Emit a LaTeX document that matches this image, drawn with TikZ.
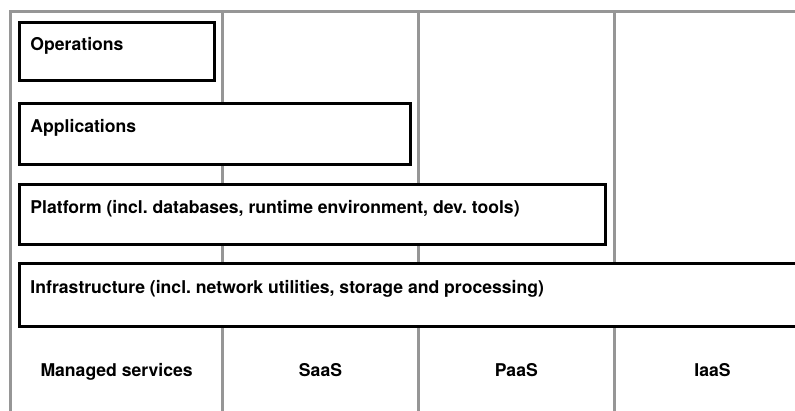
\documentclass[tikz,border=0pt]{standalone}
\usepackage{fontspec}
\setmainfont{TeX Gyre Heros}
\definecolor{gridgray}{RGB}{150,150,150}
\frenchspacing
\begin{document}
\begin{tikzpicture}[x=1pt,y=-1pt,
  gridline/.style={draw=gridgray,line width=2.8pt},
  layerbox/.style={draw=black,line width=3pt,fill=white,inner sep=0pt,outer sep=0pt,anchor=north west},
  layerlbl/.style={font=\bfseries\fontsize{17.6}{20}\selectfont,anchor=base west,inner sep=0pt},
  collbl/.style={font=\bfseries\fontsize{17.6}{20}\selectfont,anchor=base,inner sep=0pt}]
\useasboundingbox (0,0) rectangle (795,410);
\clip (0,0) rectangle (795,410);
% grid
\coordinate (gtl) at (10.5,11.3);
\coordinate (gbl) at (10.5,420);
\coordinate (gtr) at (830,11.3);
\draw[gridline] (gbl) -- (gtl) -- (gtr);
\foreach \x/\n in {222.7/a,418.3/b,614.2/c}{
  \coordinate (t\n) at (\x,11.3);
  \coordinate (b\n) at (\x,420);
  \draw[gridline] (t\n) -- (b\n);
}
% layer boxes
\node[layerbox,minimum width=194.5pt,minimum height=58.4pt] (ops) at (19.5,22.3) {};
\node[layerbox,minimum width=390.8pt,minimum height=61pt] (app) at (19.5,103) {};
\node[layerbox,minimum width=586.3pt,minimum height=60.3pt] (plat) at (19.5,184) {};
\node[layerbox,minimum width=830pt,minimum height=62.3pt] (infra) at (19.5,263.7) {};
% layer labels
\node[layerlbl] (opsl) at (30.3,50.7) {Operations};
\node[layerlbl] (appl) at (30.3,132) {Applications};
\node[layerlbl] (platl) at (30.3,213) {Platform (incl. databases, runtime environment, dev. tools)};
\node[layerlbl] (infral) at (30.3,293.5) {Infrastructure (incl. network utilities, storage and processing)};
% column labels
\node[collbl] (ms) at (116.6,376) {Managed services};
\node[collbl] (saas) at (320.5,376) {SaaS};
\node[collbl] (paas) at (516.3,376) {PaaS};
\node[collbl] (iaas) at (712.5,376) {IaaS};
\end{tikzpicture}
\end{document}
